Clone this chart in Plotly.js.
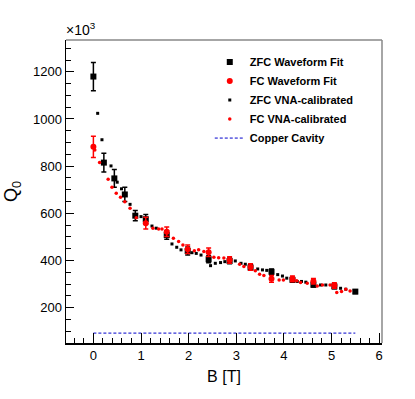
<!DOCTYPE html>
<html>
<head>
<meta charset="utf-8">
<script src="https://cdn.plot.ly/plotly-3.0.1.min.js"></script>
<style>
  html, body { margin: 0; padding: 0; background: #fff; }
  #chart { width: 415px; height: 399px; }
</style>
</head>
<body>
<div id="chart"></div>
<script>
// Q0 values in units of 10^3
var zfcFitB = [0, 0.22, 0.44, 0.66, 0.88, 1.10, 1.54, 1.98, 2.42, 2.86, 3.30, 3.74, 4.18, 4.62, 5.06, 5.50];
var zfcFitQ = [1180, 815, 748, 680, 590, 575, 508, 440, 405, 398, 370, 352, 318, 297, 290, 268];
var zfcFitErr = [60, 40, 38, 30, 22, 20, 18, 17, 15, 12, 12, 12, 10, 10, 10, 8];

var fcFitB = [0, 1.10, 1.54, 1.98, 2.42, 2.86, 3.30, 3.74, 4.18, 4.62, 5.06];
var fcFitQ = [882, 558, 522, 448, 435, 402, 372, 322, 322, 312, 294];
var fcFitErr = [45, 25, 20, 18, 18, 14, 14, 14, 12, 12, 12];

var zfcVnaB = [0.09, 0.18, 0.37, 0.50, 0.59, 0.77, 1.00, 1.23, 1.32, 1.65, 1.75, 1.84, 2.07, 2.16, 2.26,
               2.46, 2.56, 2.67, 2.76, 2.98, 3.10, 3.19, 3.45, 3.55, 3.64, 3.87, 3.97, 4.06, 4.28, 4.37,
               4.46, 4.77, 4.88, 5.19, 5.30];
var zfcVnaQ = [1024, 912, 801, 732, 704, 638, 586, 546, 537, 470, 456, 445, 433, 430, 423,
               378, 388, 391, 395, 398, 388, 384, 364, 360, 358, 340, 334, 325, 311, 311,
               308, 296, 296, 282, 278];

var fcVnaB = [0.03, 0.13, 0.31, 0.39, 0.48, 0.57, 0.66, 0.77, 0.90, 1.25, 1.37, 1.44, 1.68, 1.79, 1.88,
              2.12, 2.21, 2.32, 2.53, 2.63, 2.74, 3.07, 3.16, 3.40, 3.49, 3.58, 3.90, 3.99, 4.27, 4.35,
              4.49, 4.70, 4.81, 4.97, 5.11, 5.21, 5.30, 5.39];
var fcVnaQ = [868, 815, 744, 710, 685, 668, 649, 621, 581, 537, 533, 533, 494, 480, 466,
              441, 445, 438, 414, 412, 410, 384, 374, 356, 342, 336, 317, 317, 314, 307,
              303, 292, 296, 296, 264, 268, 278, 270];

var copperB = [0, 5.5];
var copperQ = [92, 92];

var data = [
  {
    x: zfcFitB, y: zfcFitQ, name: 'ZFC Waveform Fit',
    mode: 'markers', type: 'scatter',
    marker: {symbol: 'square', size: 6, color: 'black'},
    error_y: {type: 'data', array: zfcFitErr, color: 'black', thickness: 1.5, width: 2.5}
  },
  {
    x: fcFitB, y: fcFitQ, name: 'FC Waveform Fit',
    mode: 'markers', type: 'scatter',
    marker: {symbol: 'circle', size: 6, color: 'red'},
    error_y: {type: 'data', array: fcFitErr, color: 'red', thickness: 1.5, width: 2.5}
  },
  {
    x: zfcVnaB, y: zfcVnaQ, name: 'ZFC VNA-calibrated',
    mode: 'markers', type: 'scatter',
    marker: {symbol: 'square', size: 3, color: 'black'}
  },
  {
    x: fcVnaB, y: fcVnaQ, name: 'FC VNA-calibrated',
    mode: 'markers', type: 'scatter',
    marker: {symbol: 'circle', size: 3.5, color: 'red'}
  },
  {
    x: copperB, y: copperQ, name: 'Copper Cavity',
    mode: 'lines', type: 'scatter',
    line: {color: '#0000cc', width: 1, dash: '3px,2px'}
  }
];

var axisFont = {family: 'Liberation Sans, Arial, sans-serif', size: 13, color: 'black'};

var layout = {
  width: 415, height: 399,
  margin: {l: 66, r: 33, t: 40, b: 56},
  paper_bgcolor: 'white', plot_bgcolor: 'white',
  showlegend: true,
  legend: {
    x: 0.455, y: 0.975, xanchor: 'left', yanchor: 'top',
    bgcolor: 'rgba(0,0,0,0)',
    font: {family: 'Liberation Sans, Arial, sans-serif', size: 11, color: 'black', weight: 'bold'},
    tracegroupgap: 0
  },
  xaxis: {
    range: [-0.575, 6.06],
    dtick: 1, tick0: 0,
    ticks: 'inside', ticklen: 10, tickwidth: 1, tickcolor: 'black',
    minor: {dtick: 0.2, ticks: 'inside', ticklen: 5, tickcolor: 'black', showgrid: false},
    showgrid: false, zeroline: false,
    showline: true, linecolor: 'black', linewidth: 1.5,
    tickfont: axisFont,
    title: {text: 'B [T]', font: {family: 'Liberation Sans, Arial, sans-serif', size: 16, color: 'black'}, standoff: 8}
  },
  yaxis: {
    range: [50, 1335],
    dtick: 200, tick0: 0,
    ticks: 'inside', ticklen: 8, tickwidth: 1, tickcolor: 'black',
    minor: {dtick: 50, ticks: 'inside', ticklen: 5, tickcolor: 'black', showgrid: false},
    showgrid: false, zeroline: false,
    showline: true, linecolor: 'black', linewidth: 1.5,
    tickfont: axisFont,
    title: {text: 'Q<sub>0</sub>', font: {family: 'Liberation Sans, Arial, sans-serif', size: 18, color: 'black'}, standoff: 10}
  },
  shapes: [
    {type: 'line', xref: 'paper', yref: 'paper', x0: 0, x1: 1, y0: 1, y1: 1, line: {color: '#888', width: 1.5}},
    {type: 'line', xref: 'paper', yref: 'paper', x0: 1, x1: 1, y0: 0, y1: 1, line: {color: '#888', width: 1.5}}
  ],
  annotations: [
    {xref: 'paper', yref: 'paper', x: -0.005, y: 1, xanchor: 'left', yanchor: 'bottom',
     text: '\u00d710<sup>3</sup>', showarrow: false,
     font: {family: 'Liberation Sans, Arial, sans-serif', size: 14, color: 'black'}}
  ]
};

Plotly.newPlot('chart', data, layout, {displayModeBar: false, staticPlot: true});
</script>
</body>
</html>
